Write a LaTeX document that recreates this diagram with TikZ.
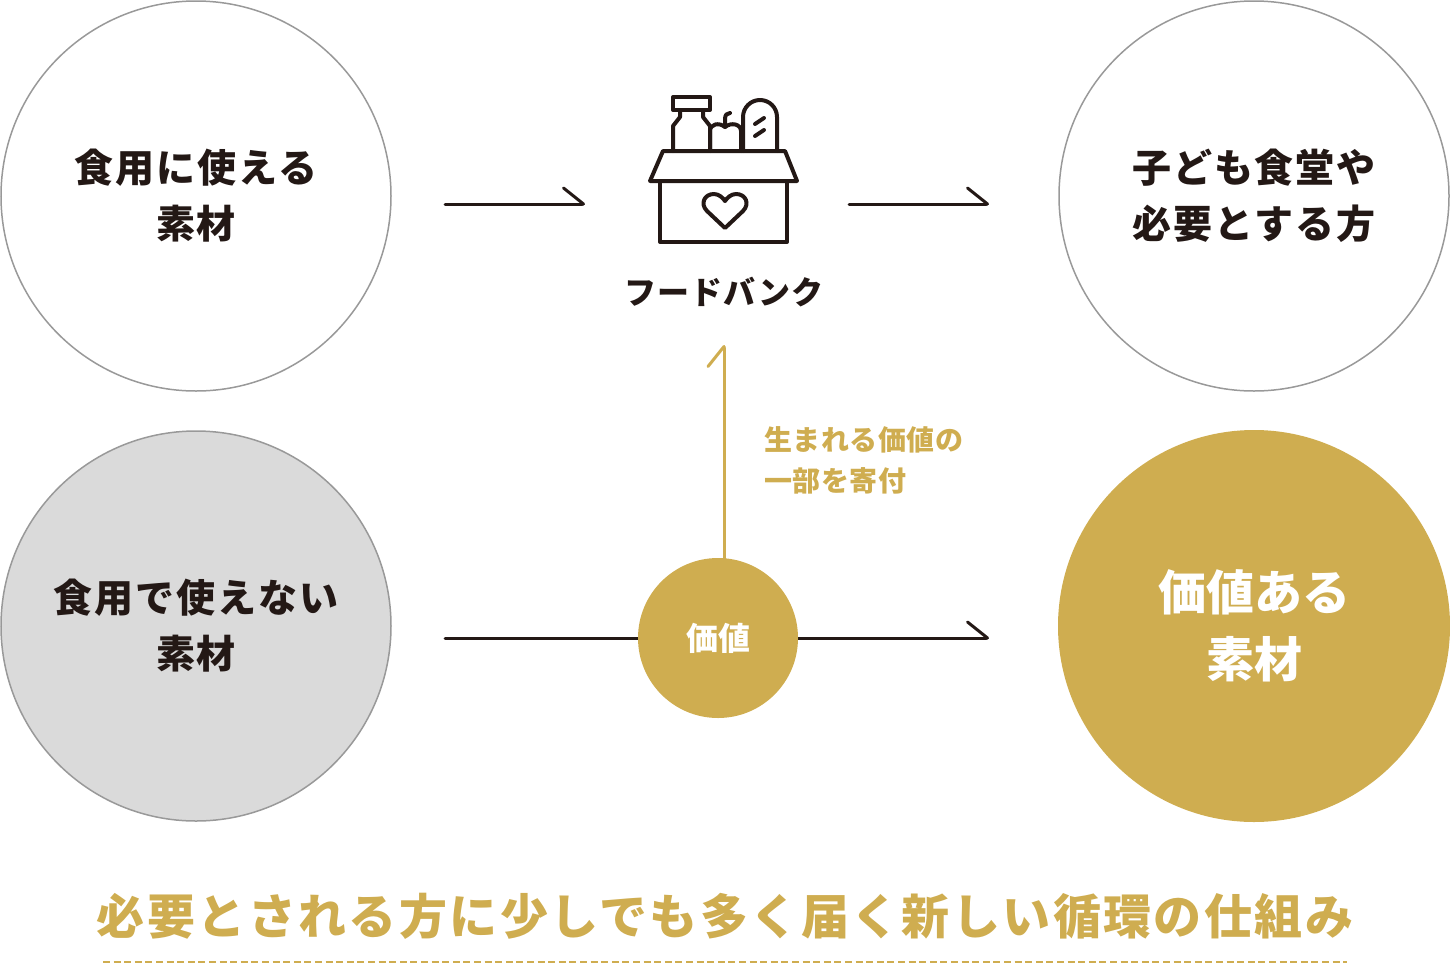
\documentclass[tikz,border=0pt]{standalone}
\usepackage{fontspec}
\setmainfont{Noto Sans CJK JP}
\usetikzlibrary{arrows.meta}
\definecolor{gold}{HTML}{CFAD50}
\definecolor{ink}{HTML}{231815}
\definecolor{ringgray}{HTML}{999999}
\definecolor{softgray}{HTML}{DADADA}
\tikzset{
  ring/.style={circle, draw=ringgray, line width=0.75pt, minimum size=195pt,
    inner sep=0pt, align=center, text=ink,
    font=\fontsize{19.5}{28}\selectfont\bfseries\addfontfeatures{LetterSpace=5}},
  flow/.style={draw=ink, line width=1.5pt, line cap=round,
    -{Straight Barb[left, length=10pt, width=16pt, line cap=round, round]}},
  giftflow/.style={flow, draw=gold},
  icon/.style={draw=ink, line width=2pt, line join=round, line cap=round}
}
\begin{document}
\begin{tikzpicture}[x=0.5pt, y=-0.5pt]
\useasboundingbox (0,0) rectangle (1450,964);
% connectors behind the circles
\coordinate (fbin) at (585,204);
\coordinate (fbout) at (849,204);
\coordinate (kidsin) at (989,204);
\coordinate (lossout) at (445,638);
\coordinate (wastein) at (445,204);
\coordinate (goldin) at (989,638);
\coordinate (fbup) at (724,345);

\node[ring] (usable) at (196,196) {食用に使える\\素材};
\node[ring] (kids) at (1254,196) {子ども食堂や\\必要とする方};
\node[ring, fill=softgray] (unusable) at (196,626) {食用で使えない\\素材};
\node[circle, fill=gold, minimum size=196pt, inner sep=0pt, align=center,
  text=white, font=\fontsize{24}{33.5}\selectfont\bfseries] (valued) at (1254,626) {価値ある\\素材};

\draw[flow] (wastein) -- (fbin);
\draw[flow] (fbout) -- (kidsin);
\draw[flow] (lossout) -- (goldin);
\draw[giftflow] (724,600) -- (fbup);

\node[circle, fill=gold, minimum size=80pt, inner sep=0pt, text=white,
  font=\fontsize{16}{20}\selectfont\bfseries] (value) at (718,638) {価値};

% food bank icon
\draw[icon] (660,181) rectangle (787,242);
\draw[icon] (663,151) -- (785,151) -- (797,181) -- (650,181) -- cycle;
\draw[icon] (673,97) rectangle (710,110);
\draw[icon] (680,110) -- (680,117) -- (673,126) -- (673,151)
  (703,110) -- (703,117) -- (710,126) -- (710,151);
\draw[icon] (710,151) -- (710,131) .. controls (710,124) and (719,122) .. (725,127)
  .. controls (731,122) and (741,124) .. (741,131) -- (741,151);
\draw[icon] (725,127) -- (725,119) .. controls (725,115) and (727,113) .. (730,113);
\draw[icon] (743,151) -- (743,117) arc[start angle=180, end angle=360, radius=17] -- (777,151);
\draw[icon] (755,124) -- (764,118) (755,136) -- (764,130);
\draw[icon] (725,228) -- (707,211) .. controls (700,204) and (704,194) .. (714,194)
  .. controls (719,194) and (723,198) .. (725,201)
  .. controls (727,198) and (731,194) .. (736,194)
  .. controls (746,194) and (750,204) .. (743,211) -- cycle;

\node[text=ink, font=\fontsize{16}{20}\selectfont\bfseries\addfontfeatures{LetterSpace=3}] (fb) at (724,292) {フードバンク};
\node[text=gold, anchor=west, align=left, font=\fontsize{14}{20.5}\selectfont\bfseries\addfontfeatures{LetterSpace=2}]
  (gift) at (757,460) {生まれる価値の\\一部を寄付};

\node[text=gold, font=\fontsize{24}{30}\selectfont\bfseries\addfontfeatures{LetterSpace=5}]
  (title) at (725,916) {必要とされる方に少しでも多く届く新しい循環の仕組み};
\draw[gold, line width=1pt, dash pattern=on 3.5pt off 1.8pt] (103,962) -- (1347,962);
\end{tikzpicture}
\end{document}
